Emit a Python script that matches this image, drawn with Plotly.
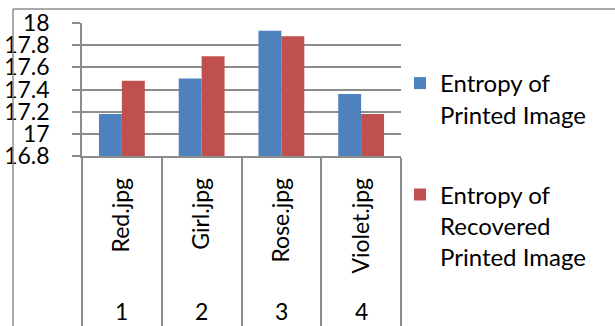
import plotly.graph_objects as go

categories = ["Red.jpg", "Girl.jpg", "Rose.jpg", "Violet.jpg"]
index_labels = ["1", "2", "3", "4"]
printed = [17.18, 17.50, 17.93, 17.36]
recovered = [17.48, 17.70, 17.88, 17.18]
series_names = ["Entropy of<br>Printed Image", "Entropy of<br>Recovered<br>Printed Image"]
y_ticks = [16.8, 17, 17.2, 17.4, 17.6, 17.8, 18]
y_tick_text = ["16.8", "17", "17.2", "17.4", "17.6", "17.8", "18"]

BLUE = "#4F81BD"
RED = "#C0504D"
GRAY = "#8C8C8C"
FONT = "Lato"

W, H = 615, 326
L, R, T, B = 82, 214, 23, 170
PW, PH = W - L - R, H - T - B

def px_x(px):
    return (px - L) / PW

def px_y(py):
    return (H - B - py) / PH

fig = go.Figure()
fig.add_trace(go.Bar(x=categories, y=printed, name=series_names[0],
                     marker=dict(color=BLUE, line=dict(width=0)),
                     legendgroup="a"))
fig.add_trace(go.Bar(x=categories, y=recovered, name=series_names[1],
                     marker=dict(color=RED, line=dict(width=0)),
                     legendgroup="b"))

annotations = [
    dict(x=c, y=px_y(311), xref="x", yref="paper", text=t, showarrow=False,
         xanchor="center", yanchor="middle",
         font=dict(size=23, family=FONT, color="black"))
    for c, t in zip(categories, index_labels)
]

fig.update_layout(
    width=W, height=H,
    margin=dict(l=L, r=R, t=T, b=B, pad=0, autoexpand=False),
    paper_bgcolor="white", plot_bgcolor="white",
    barmode="group", bargap=0.425, bargroupgap=0,
    font=dict(family=FONT, color="black"),
    showlegend=True,
    legend=dict(x=px_x(400), xanchor="left", y=px_y(61), yanchor="top",
                font=dict(size=24, family=FONT, color="black"),
                valign="top", tracegroupgap=46, bgcolor="rgba(0,0,0,0)",
                traceorder="grouped", maxheight=300),
    xaxis=dict(type="category", categoryorder="array", categoryarray=categories,
               tickson="boundaries", ticks="outside", ticklen=175, tickwidth=1.5,
               tickcolor=GRAY, showline=True, linecolor=GRAY, linewidth=1.5,
               tickangle=-90, tickfont=dict(size=23, family=FONT),
               ticklabelstandoff=11, showgrid=False, range=[-0.5, 3.5],
               automargin=False),
    yaxis=dict(range=[16.8, 18], tickmode="array", tickvals=y_ticks,
               ticktext=y_tick_text, ticks="outside", ticklen=8, tickwidth=1.5,
               tickcolor=GRAY, showline=True, linecolor=GRAY, linewidth=1.5,
               gridcolor=GRAY, gridwidth=1.5, zeroline=False,
               tickfont=dict(size=23, family=FONT), ticklabelstandoff=18,
               automargin=False),
    annotations=annotations,
    shapes=[
        dict(type="line", xref="paper", yref="paper",
             x0=px_x(13), x1=px_x(13), y0=px_y(9), y1=px_y(H + 5),
             line=dict(color=GRAY, width=1.5)),
        dict(type="line", xref="paper", yref="paper",
             x0=px_x(13), x1=px_x(W + 5), y0=px_y(9), y1=px_y(9),
             line=dict(color=GRAY, width=1.5)),
    ],
)

fig.write_html("out.html")
